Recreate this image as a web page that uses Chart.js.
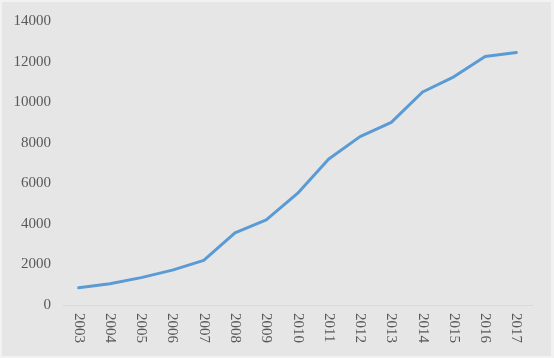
<!DOCTYPE html>
<html><head><meta charset="utf-8">
<script src="https://cdn.jsdelivr.net/npm/chart.js@4/dist/chart.umd.min.js"></script>
<style>
html,body{margin:0;padding:0;background:#f4f4f4;}
#wrap{position:absolute;left:0;top:0;width:554px;height:358px;}
</style></head><body>
<div id="wrap"><canvas id="c" width="554" height="358"></canvas></div>
<script>
const years = ['2003','2004','2005','2006','2007','2008','2009','2010','2011','2012','2013','2014','2015','2016','2017'];
const values = [850, 1050, 1350, 1720, 2200, 3550, 4200, 5500, 7200, 8300, 9000, 10500, 11250, 12250, 12450];
const yMin = 0, yMax = 14000, yStep = 2000;

const FONT = '15px "Liberation Serif"';
const TEXT = '#595959';

const bg = {
  id:'bg',
  beforeDraw(chart){
    const ctx = chart.ctx;
    ctx.save();
    ctx.fillStyle = '#f2f2f2';
    ctx.fillRect(0,0,chart.width,chart.height);
    ctx.fillStyle = '#e7e6e6';
    ctx.fillRect(2,2,chart.width-5,chart.height-4);
    ctx.restore();
  }
};

// x labels rotated clockwise (reading top to bottom)
const xLabels = {
  id:'xLabels',
  afterDraw(chart){
    const s = chart.scales.x, ctx = chart.ctx;
    ctx.save();
    ctx.font = FONT;
    ctx.fillStyle = TEXT;
    ctx.textAlign = 'left';
    ctx.textBaseline = 'middle';
    chart.data.labels.forEach((lab,i)=>{
      const x = s.getPixelForTick(i);
      ctx.save();
      ctx.translate(x, s.top + 8);
      ctx.rotate(Math.PI/2);
      ctx.fillText(lab, 0, 0);
      ctx.restore();
    });
    ctx.restore();
  }
};

new Chart(document.getElementById('c'), {
  type:'line',
  data:{labels:years, datasets:[{data:values, borderColor:'#5b9bd5', borderWidth:3, pointRadius:0, tension:0, fill:false, borderJoinStyle:'round', borderCapStyle:'round'}]},
  options:{
    responsive:false, animation:false,
    layout:{padding:{top:16, right:22, left:0, bottom:0}},
    plugins:{legend:{display:false}, tooltip:{enabled:false}},
    scales:{
      x:{
        offset:true,
        grid:{display:false, drawTicks:false, offset:true},
        border:{display:true, color:'#d9d9d9', width:1},
        ticks:{display:false},
        afterFit(s){ s.height = 53; }
      },
      y:{
        min:yMin, max:yMax,
        grid:{display:false, drawTicks:false},
        border:{display:false},
        ticks:{stepSize:yStep, padding:12, color:TEXT, font:{family:'Liberation Serif', size:15}, callback:(v)=>String(v)},
        afterFit(s){ s.width = 63; }
      }
    }
  },
  plugins:[bg, xLabels]
});
</script></body></html>
